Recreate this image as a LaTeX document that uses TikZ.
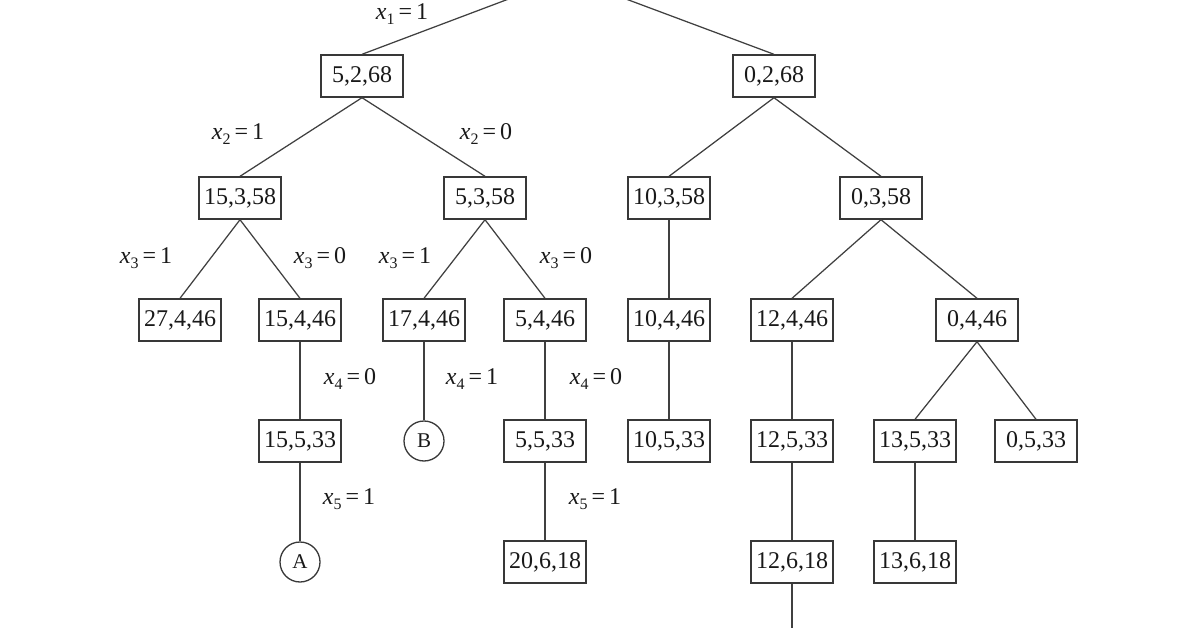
\documentclass[tikz,border=0pt]{standalone}
\usepackage{fontspec}
\setmainfont{Liberation Serif}
\begin{document}
\begin{tikzpicture}[x=1pt,y=-1pt,
  every node/.style={font=\fontsize{24}{26}\selectfont, text=black!90},
  bx/.style={draw=black!78, line width=1.4pt, minimum width=82pt, minimum height=42pt, inner xsep=4pt, inner sep=0pt},
  cir/.style={draw=black!78, line width=1.3pt, circle, minimum size=40pt, inner sep=0pt, font=\fontsize{21}{22}\selectfont},
  lab/.style={inner sep=0pt},
  edge/.style={draw=black!75, line width=1.25pt}]
\useasboundingbox (0,0) rectangle (1196,628);
\clip (0,0) rectangle (1196,628);
\newcommand{\xl}[2]{\textit{x}\raisebox{-5pt}{\fontsize{16}{16}\selectfont #1}\,=\,#2}
\coordinate (root) at (567,-23);
\coordinate (bot) at (792,640);
% level 1
\node[bx] (a) at (362,76) {5,2,68};
\node[bx] (b) at (774,76) {0,2,68};
% level 2
\node[bx] (aa) at (240,198) {15,3,58};
\node[bx] (ab) at (485,198) {5,3,58};
\node[bx] (ba) at (669,198) {10,3,58};
\node[bx] (bb) at (881,198) {0,3,58};
% level 3
\node[bx] (aaa) at (180,320) {27,4,46};
\node[bx] (aab) at (300,320) {15,4,46};
\node[bx] (aba) at (424,320) {17,4,46};
\node[bx] (abb) at (545,320) {5,4,46};
\node[bx] (baa) at (669,320) {10,4,46};
\node[bx] (bba) at (792,320) {12,4,46};
\node[bx] (bbb) at (977,320) {0,4,46};
% level 4
\node[bx] (aab1) at (300,441) {15,5,33};
\node[cir] (B) at (424,441) {B};
\node[bx] (abb1) at (545,441) {5,5,33};
\node[bx] (baa1) at (669,441) {10,5,33};
\node[bx] (bba1) at (792,441) {12,5,33};
\node[bx] (bbba) at (915,441) {13,5,33};
\node[bx] (bbbb) at (1036,441) {0,5,33};
% level 5
\node[cir] (A) at (300,562) {A};
\node[bx] (abb2) at (545,562) {20,6,18};
\node[bx] (bba2) at (792,562) {12,6,18};
\node[bx] (bbba2) at (915,562) {13,6,18};
% edges
\draw[edge] (root) -- (a.north);
\draw[edge] (root) -- (b.north);
\draw[edge] (a.south) -- (aa.north);
\draw[edge] (a.south) -- (ab.north);
\draw[edge] (b.south) -- (ba.north);
\draw[edge] (b.south) -- (bb.north);
\draw[edge] (aa.south) -- (aaa.north);
\draw[edge] (aa.south) -- (aab.north);
\draw[edge] (ab.south) -- (aba.north);
\draw[edge] (ab.south) -- (abb.north);
\draw[edge] (ba.south) -- (baa.north);
\draw[edge] (bb.south) -- (bba.north);
\draw[edge] (bb.south) -- (bbb.north);
\draw[edge] (aab.south) -- (aab1.north);
\draw[edge] (aba.south) -- (B.north);
\draw[edge] (abb.south) -- (abb1.north);
\draw[edge] (baa.south) -- (baa1.north);
\draw[edge] (bba.south) -- (bba1.north);
\draw[edge] (bbb.south) -- (bbba.north);
\draw[edge] (bbb.south) -- (bbbb.north);
\draw[edge] (aab1.south) -- (A.north);
\draw[edge] (abb1.south) -- (abb2.north);
\draw[edge] (bba1.south) -- (bba2.north);
\draw[edge] (bbba.south) -- (bbba2.north);
\draw[edge] (bba2.south) -- (bot);
% labels
\node[lab] (l1) at (402,14) {\xl{1}{1}};
\node[lab] (l2a) at (238,134) {\xl{2}{1}};
\node[lab] (l2b) at (486,134) {\xl{2}{0}};
\node[lab] (l3a) at (146,258) {\xl{3}{1}};
\node[lab] (l3b) at (320,258) {\xl{3}{0}};
\node[lab] (l3c) at (405,258) {\xl{3}{1}};
\node[lab] (l3d) at (566,258) {\xl{3}{0}};
\node[lab] (l4a) at (350,379) {\xl{4}{0}};
\node[lab] (l4b) at (472,379) {\xl{4}{1}};
\node[lab] (l4c) at (596,379) {\xl{4}{0}};
\node[lab] (l5a) at (349,499) {\xl{5}{1}};
\node[lab] (l5b) at (595,499) {\xl{5}{1}};
\end{tikzpicture}
\end{document}
